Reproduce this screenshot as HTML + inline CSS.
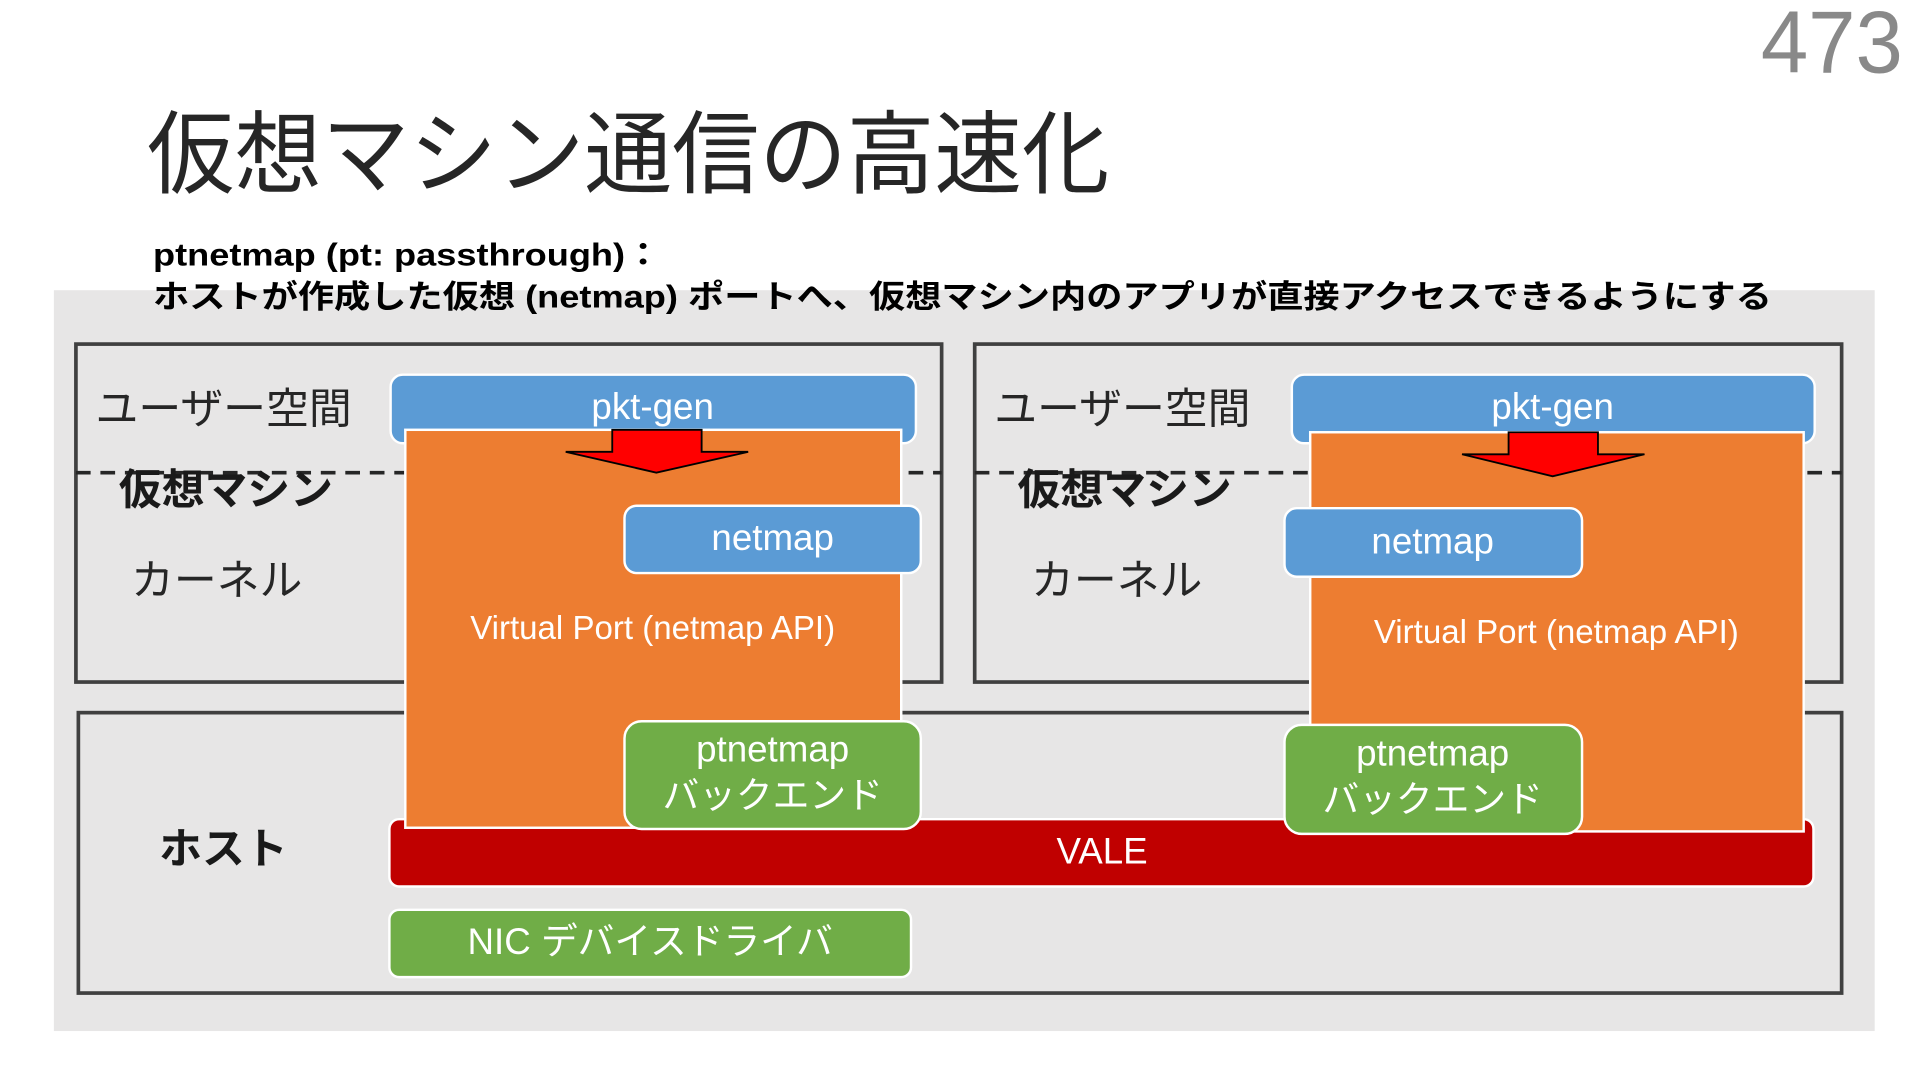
<!DOCTYPE html>
<html><head><meta charset="utf-8"><style>
html,body{margin:0;padding:0;background:#fff;width:1920px;height:1080px;overflow:hidden}
svg{display:block}
text{font-family:"Liberation Sans","Noto Sans CJK JP",sans-serif}
</style></head><body>
<svg width="1920" height="1080" viewBox="0 0 1568 882" preserveAspectRatio="none">
<text x="1554" y="59" font-size="72" fill="#898989" text-anchor="end" textLength="116" lengthAdjust="spacingAndGlyphs">473</text>
<text x="120" y="152" font-size="74" fill="#262626" textLength="786" lengthAdjust="spacingAndGlyphs">仮想マシン通信の高速化</text>
<rect x="44" y="237" width="1487" height="605" fill="#e7e6e6"/>
<text x="125" y="217" font-size="26" font-weight="bold" fill="#000" textLength="415" lengthAdjust="spacingAndGlyphs">ptnetmap (pt: passthrough)：</text>
<text x="125" y="251" font-size="26" font-weight="bold" fill="#000" textLength="1322" lengthAdjust="spacingAndGlyphs">ホストが作成した仮想 (netmap) ポートへ、仮想マシン内のアプリが直接アクセスできるようにする</text>

<g fill="none" stroke="#404040" stroke-width="3">
<rect x="62" y="281" width="707" height="276"/>
<rect x="796" y="281" width="708" height="276"/>
<rect x="64" y="582" width="1440" height="229"/>
</g>
<g stroke="#262626" stroke-width="3" stroke-dasharray="12,8">
<line x1="62" y1="386" x2="769" y2="386"/>
<line x1="796" y1="386" x2="1504" y2="386"/>
</g>

<g font-size="35" fill="#262626">
<text x="78" y="346">ユーザー空間</text>
<text x="107" y="486">カーネル</text>
<text x="812" y="346">ユーザー空間</text>
<text x="842" y="486">カーネル</text>
</g>
<g font-size="35" font-weight="bold" fill="#1a1a1a">
<text x="97" y="412">仮想マシン</text>
<text x="831" y="412">仮想マシン</text>
<text x="130" y="705">ホスト</text>
</g>

<!-- VALE -->
<rect x="318" y="669" width="1163" height="55" rx="8" fill="#c00000" stroke="#fff" stroke-width="2"/>
<text x="900" y="705" font-size="30" fill="#fff" text-anchor="middle">VALE</text>

<!-- NIC -->
<rect x="318" y="743" width="426" height="55" rx="8" fill="#70ad47" stroke="#fff" stroke-width="2"/>
<text x="531" y="779" font-size="30" fill="#fff" text-anchor="middle">NIC デバイスドライバ</text>

<!-- Left VM -->
<rect x="319" y="306" width="429" height="56" rx="10" fill="#5b9bd5" stroke="#fff" stroke-width="2"/>
<text x="533" y="342" font-size="30" fill="#fff" text-anchor="middle">pkt-gen</text>
<rect x="331" y="351" width="405" height="325" fill="#ed7d31" stroke="#fff" stroke-width="2"/>
<polygon points="500,351 573,351 573,369 611,369 536,386 462,369 500,369" fill="#ff0000" stroke="#000" stroke-width="1.5"/>
<rect x="510" y="413" width="242" height="55" rx="10" fill="#5b9bd5" stroke="#fff" stroke-width="2"/>
<text x="631" y="449" font-size="30" fill="#fff" text-anchor="middle">netmap</text>
<text x="533" y="522" font-size="27" fill="#fff" text-anchor="middle">Virtual Port (netmap API)</text>
<rect x="510" y="589" width="242" height="88" rx="14" fill="#70ad47" stroke="#fff" stroke-width="2"/>
<text x="631" y="622" font-size="30" fill="#fff" text-anchor="middle">ptnetmap</text>
<text x="631" y="660" font-size="30" fill="#fff" text-anchor="middle">バックエンド</text>

<!-- Right VM -->
<rect x="1055" y="306" width="427" height="56" rx="10" fill="#5b9bd5" stroke="#fff" stroke-width="2"/>
<text x="1268" y="342" font-size="30" fill="#fff" text-anchor="middle">pkt-gen</text>
<rect x="1070" y="353" width="403" height="326" fill="#ed7d31" stroke="#fff" stroke-width="2"/>
<polygon points="1232,353 1305,353 1305,371 1343,371 1268,389 1194,371 1232,371" fill="#ff0000" stroke="#000" stroke-width="1.5"/>
<rect x="1049" y="415" width="243" height="56" rx="10" fill="#5b9bd5" stroke="#fff" stroke-width="2"/>
<text x="1170" y="452" font-size="30" fill="#fff" text-anchor="middle">netmap</text>
<text x="1271" y="525" font-size="27" fill="#fff" text-anchor="middle">Virtual Port (netmap API)</text>
<rect x="1049" y="592" width="243" height="89" rx="14" fill="#70ad47" stroke="#fff" stroke-width="2"/>
<text x="1170" y="625" font-size="30" fill="#fff" text-anchor="middle">ptnetmap</text>
<text x="1170" y="663" font-size="30" fill="#fff" text-anchor="middle">バックエンド</text>
</svg>
</body></html>
